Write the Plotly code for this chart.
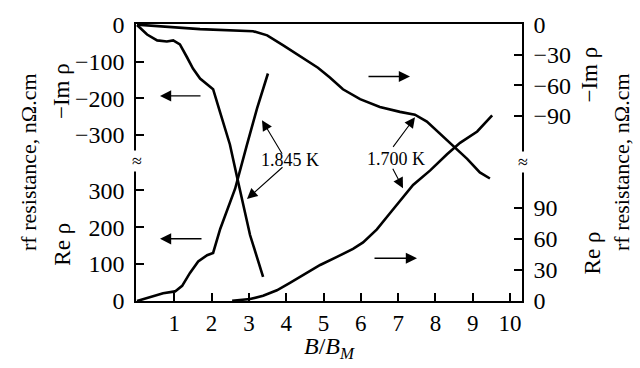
import plotly.graph_objects as go

# ---- data ----
# 1.845 K, -Im rho (left scale, upper)
x_im_1845 = [0, 0.27, 0.54, 0.80, 0.97, 1.15, 1.34, 1.50, 1.69, 1.96, 2.04, 2.23, 2.49, 2.68, 3.03, 3.38]
im_1845 = [0, -26, -42, -45, -42, -53, -88, -119, -146, -167, -175, -239, -326, -414, -573, -687]
# 1.845 K, Re rho (left scale, lower)
x_re_1845 = [0, 0.35, 0.70, 1.02, 1.21, 1.42, 1.64, 1.88, 2.04, 2.23, 2.49, 2.63, 2.95, 3.22, 3.51]
re_1845 = [0, 10, 21, 26, 41, 76, 107, 124, 130, 195, 265, 304, 424, 522, 616]
# 1.700 K, -Im rho (right scale, upper)
x_im_1700 = [0, 1.69, 3.11, 3.49, 3.91, 4.37, 4.85, 5.17, 5.52, 5.98, 6.51, 7.05, 7.45, 7.77, 8.12, 8.47, 8.85, 9.19, 9.46]
im_1700 = [0, -4.5, -6.5, -10.6, -20.3, -31, -42.6, -52.3, -63.9, -73.6, -81.3, -86.2, -89, -95.8, -107.5, -120, -132.6, -146, -152]
# 1.700 K, Re rho (right scale, lower)
x_re_1700 = [2.55, 3.03, 3.38, 3.75, 4.10, 4.56, 4.91, 5.36, 5.79, 6.06, 6.43, 6.78, 7.13, 7.40, 7.86, 8.31, 8.66, 9.12, 9.52]
re_1700 = [0.3, 1.9, 5, 10.3, 17.5, 27, 34.7, 42.5, 50.3, 56.5, 69, 84.6, 100.3, 111.8, 125.9, 141.5, 152.5, 163.4, 179]

x_ticks = [1, 2, 3, 4, 5, 6, 7, 8, 9, 10]
left_re_ticks = [0, 100, 200, 300]
left_im_ticks = [0, -100, -200, -300]
right_im_ticks = [0, -30, -60, -90]
right_re_ticks = [0, 30, 60, 90]

FONT = "Liberation Serif"
W, H = 640, 368
L, R, T, B = 136, 522, 16, 301


def pxx(p):
    return (p - L) / (R - L)


def pxy(p):
    return (B - p) / (B - T)


def lab(v):
    return str(v).replace("-", "\u2212")


fig = go.Figure()
line = dict(color="black", width=2.6)
fig.add_trace(go.Scatter(x=x_im_1845, y=im_1845, mode="lines", line=line, yaxis="y2"))
fig.add_trace(go.Scatter(x=x_re_1845, y=re_1845, mode="lines", line=line, yaxis="y"))
fig.add_trace(go.Scatter(x=x_im_1700, y=im_1700, mode="lines", line=line, yaxis="y3"))
fig.add_trace(go.Scatter(x=x_re_1700, y=re_1700, mode="lines", line=line, yaxis="y4"))

common = dict(showgrid=False, zeroline=False, showline=True, linecolor="black", linewidth=1.5,
              ticks="inside", ticklen=8, tickwidth=1.5, tickcolor="black")
xfont = dict(family=FONT, size=23, color="black")
yfont = dict(family=FONT, size=24, color="black")

fig.update_layout(
    width=W, height=H,
    margin=dict(l=L, r=W - R, t=T, b=H - B, pad=0),
    paper_bgcolor="white", plot_bgcolor="white",
    showlegend=False,
    xaxis=dict(range=[-0.027, 10.32], tickvals=x_ticks, ticktext=[str(v) for v in x_ticks],
               mirror=True, ticklabelstandoff=1, tickfont=xfont, **common),
    yaxis=dict(range=[0, 750], tickvals=left_re_ticks, ticktext=[lab(v) for v in left_re_ticks],
               side="left", ticklabelstandoff=5, tickfont=yfont, **common),
    yaxis2=dict(range=[-753, 2.7], tickvals=left_im_ticks, ticktext=[lab(v) for v in left_im_ticks],
                side="left", overlaying="y", ticklabelstandoff=5, tickfont=yfont, **common),
    yaxis3=dict(range=[-273, 0.6], tickvals=right_im_ticks, ticktext=[lab(v) for v in right_im_ticks],
                side="right", overlaying="y", ticklabelstandoff=5, tickfont=yfont, **common),
    yaxis4=dict(range=[0, 267], tickvals=right_re_ticks, ticktext=[lab(v) for v in right_re_ticks],
                side="right", overlaying="y", ticklabelstandoff=5, tickfont=yfont, **common),
)

ann = []


def text(t, x, y, size=24, angle=0, bg=None):
    d = dict(text=t, x=pxx(x), y=pxy(y), xref="paper", yref="paper", showarrow=False,
             xanchor="center", yanchor="middle", textangle=angle,
             font=dict(family=FONT, size=size, color="black"))
    if bg:
        d["bgcolor"] = bg
        d["borderpad"] = 0
    ann.append(d)


def arrow(hx, hy, tx, ty, w=1.4, s=1.6):
    ann.append(dict(text="", x=pxx(hx), y=pxy(hy), xref="paper", yref="paper",
                    ax=tx - hx, ay=ty - hy, showarrow=True, arrowhead=2,
                    arrowsize=s, arrowwidth=w, arrowcolor="black"))


# axis titles
text("rf resistance, n\u03a9.cm", 28, 158, size=22, angle=-90)
text("\u2212Im \u03c1", 61, 85, size=23, angle=-90)
text("Re \u03c1", 63, 243, size=23, angle=-90)
text("rf resistance, n\u03a9.cm", 621, 158, size=22, angle=-90)
text("\u2212Im \u03c1", 590, 68, size=23, angle=-90)
text("Re \u03c1", 592, 252, size=23, angle=-90)
ann.append(dict(text="<i>B</i>/<i>B</i><sub><i>M</i></sub>", x=pxx(302), y=pxy(367),
                xref="paper", yref="paper", showarrow=False, xanchor="left", yanchor="bottom",
                font=dict(family=FONT, size=24, color="black")))

# axis breaks
text("\u2248", 137, 157, size=18, bg="white")
text("\u2248", 523, 158, size=18, bg="white")

# labels
text("1.845 K", 290, 156, size=18)
text("1.700 K", 396, 155, size=18)

# arrows pointing to axes
arrow(160, 90, 202, 90)
arrow(160, 237, 203, 237)
arrow(410, 70, 367, 70)
arrow(417, 257, 373, 257)
# arrows pointing to curves
arrow(262, 115, 283, 150, w=1.1, s=1.9)
arrow(247, 196, 284, 163, w=1.1, s=1.9)
arrow(415, 112, 392, 143, w=1.1, s=1.9)
arrow(403, 185, 392, 164, w=1.1, s=1.9)

fig.update_layout(annotations=ann)
fig.write_html("out.html")
